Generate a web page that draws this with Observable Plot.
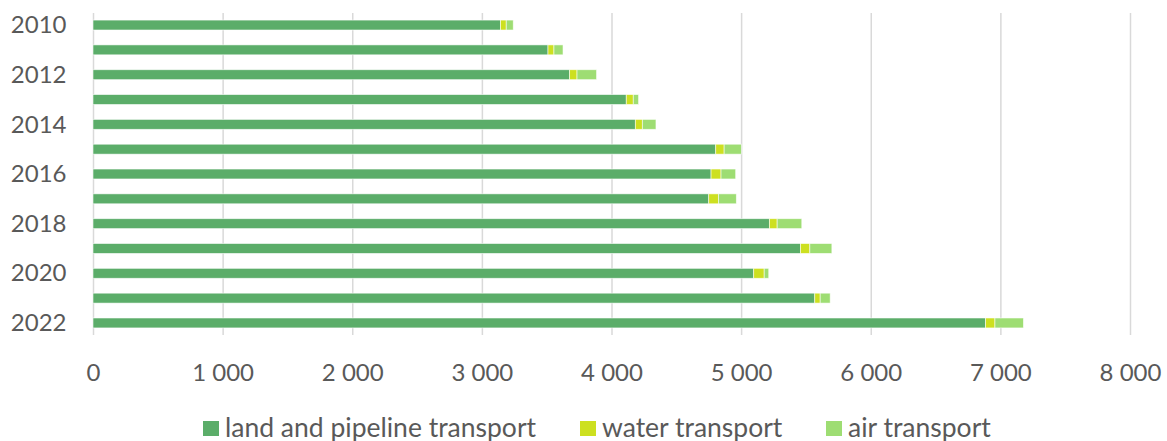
<!DOCTYPE html>
<html>
<head>
<meta charset="utf-8">
<script src="https://cdn.jsdelivr.net/npm/d3@7"></script>
<script src="https://cdn.jsdelivr.net/npm/@observablehq/plot@0.6"></script>
<style>
  html, body { margin: 0; padding: 0; background: #fff; }
  body { width: 1167px; height: 441px; overflow: hidden; font-family: Lato, "Open Sans", sans-serif; color: #595959; }
  #chart svg { display: block; }
  #legend { position: relative; height: 41px; }
  .item { position: absolute; top: 14px; display: flex; align-items: center; font-size: 26.5px; line-height: 26px; white-space: nowrap; }
  .swatch { width: 16px; height: 15px; margin-right: 6px; margin-top: 3px; }
</style>
</head>
<body>
<div id="chart"></div>
<div id="legend"></div>
<script>
// Years on the vertical axis
const years = [2010, 2011, 2012, 2013, 2014, 2015, 2016, 2017, 2018, 2019, 2020, 2021, 2022];
// Transport mode values per year
const land = [3144, 3510, 3677, 4114, 4184, 4804, 4768, 4750, 5218, 5458, 5097, 5568, 6886];
const water = [44, 46, 57, 54, 54, 65, 77, 75, 60, 72, 81, 42, 72];
const air = [54, 70, 151, 41, 105, 133, 113, 138, 190, 170, 35, 77, 220];
const seriesNames = ["land and pipeline transport", "water transport", "air transport"];
const seriesColors = ["#5BAD69", "#CDE020", "#9EDD73"];
const xTicks = [0, 1000, 2000, 3000, 4000, 5000, 6000, 7000, 8000];

const valuesBySeries = [land, water, air];
const rows = [];
years.forEach((year, i) => {
  seriesNames.forEach((name, s) => {
    rows.push({year, mode: name, value: valuesBySeries[s][i]});
  });
});

const fmt = d => d3.format(",")(d).replace(/,/g, " ");
const yearFmt = d => (d % 2 === 0 ? String(d) : "");

const chart = Plot.plot({
  width: 1167,
  height: 400,
  marginLeft: 93,
  marginRight: 37,
  marginTop: 13,
  marginBottom: 65,
  style: {fontFamily: "Lato, 'Open Sans', sans-serif", fontSize: "24px", color: "#595959", background: "#fff"},
  x: {domain: [0, 8000], ticks: xTicks, tickFormat: fmt, tickSize: 0, tickPadding: 28, label: null},
  y: {type: "band", domain: years, round: false, paddingInner: 0.6, paddingOuter: 0.285,
      tickSize: 0, tickPadding: 27, tickFormat: yearFmt, label: null},
  color: {domain: seriesNames, range: seriesColors},
  marks: [
    Plot.ruleX(xTicks, {stroke: "#d9d9d9", strokeWidth: 1.5}),
    Plot.barX(rows, {x: "value", y: "year", fill: "mode", stroke: "#ffffff", strokeWidth: 0.8, strokeOpacity: 0.7}),
    Plot.axisX({ticks: xTicks, tickFormat: fmt, tickSize: 0, tickPadding: 28, fill: "#595959", fontSize: 24, label: null}),
    Plot.axisY({tickSize: 0, tickPadding: 27, fill: "#595959", fontSize: 24, label: null, tickFormat: yearFmt})
  ]
});
document.getElementById("chart").appendChild(chart);

// Legend below the chart
const legendLefts = [203, 580, 826];
const legend = document.getElementById("legend");
seriesNames.forEach((name, i) => {
  const item = document.createElement("div");
  item.className = "item";
  item.style.left = legendLefts[i] + "px";
  const sw = document.createElement("span");
  sw.className = "swatch";
  sw.style.background = seriesColors[i];
  const label = document.createElement("span");
  label.textContent = name;
  item.appendChild(sw);
  item.appendChild(label);
  legend.appendChild(item);
});
</script>
</body>
</html>
